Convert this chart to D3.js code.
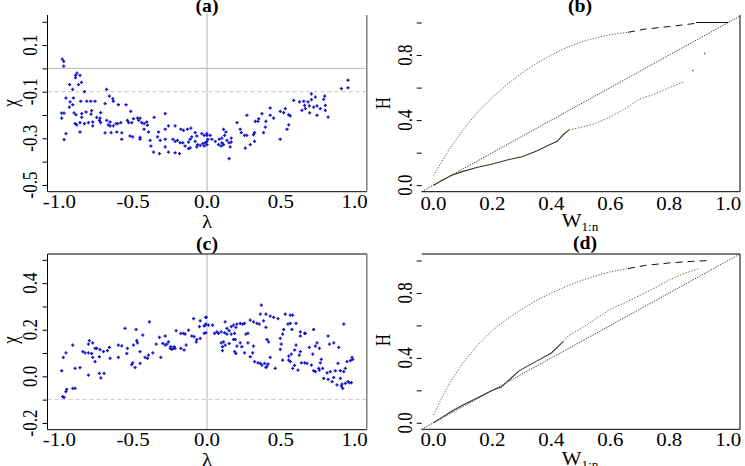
<!DOCTYPE html>
<html lang="en">
<head>
<meta charset="UTF-8">
<script src="https://d3js.org/d3.v7.min.js"></script>
<title>Chi and H plots</title>
<style>
  body { margin: 0; background: #fff; }
  text { font-family: "Liberation Serif", "Times New Roman", Times, serif; fill: #000; }
</style>
</head>
<body>
<div id="chart"></div>
<script>
// ---- data ----
// panel (a): [lambda, chi]
const ptsA = [
  [-0.98,0.04],[-0.97,0.03],[-0.97,0.01],
  [-0.89,-0.03],[-0.89,-0.04],[-0.86,-0.03],[-0.88,-0.02],
  [-0.93,-0.07],[-0.91,-0.09],[-0.87,-0.07],[-0.85,-0.06],[-0.83,-0.10],[-0.68,-0.09],
  [-0.955,-0.127],[-0.905,-0.127],[-0.927,-0.144],[-0.909,-0.156],[-0.932,-0.166],
  [-0.855,-0.141],[-0.814,-0.141],[-0.787,-0.141],[-0.758,-0.141],
  [-0.69,-0.151],[-0.661,-0.119],[-0.634,-0.141],[-0.638,-0.13],[-0.60,-0.156],[-0.548,-0.156],
  [-0.984,-0.192],[-0.968,-0.192],[-0.984,-0.213],
  [-0.90,-0.191],[-0.887,-0.199],[-0.848,-0.194],[-0.848,-0.21],[-0.819,-0.187],[-0.785,-0.196],
  [-0.781,-0.181],[-0.747,-0.21],[-0.72,-0.19],[-0.724,-0.213],
  [-0.893,-0.237],[-0.882,-0.242],[-0.86,-0.233],[-0.83,-0.237],[-0.803,-0.233],[-0.774,-0.23],
  [-0.774,-0.247],[-0.729,-0.223],[-0.72,-0.233],[-0.679,-0.223],[-0.668,-0.242],[-0.656,-0.23],
  [-0.634,-0.247],[-0.616,-0.237],[-0.604,-0.237],[-0.584,-0.233],
  [-0.955,-0.28],[-0.968,-0.306],[-0.86,-0.273],[-0.69,-0.277],[-0.656,-0.247],[-0.649,-0.276],
  [-0.611,-0.273],[-0.577,-0.277],[-0.577,-0.304],[-0.521,-0.29],[-0.503,-0.294],[-0.453,-0.296],[-0.453,-0.304],
  [-0.516,-0.184],[-0.509,-0.233],[-0.539,-0.223],[-0.53,-0.233],[-0.498,-0.216],[-0.471,-0.213],
  [-0.462,-0.223],[-0.453,-0.213],[-0.442,-0.233],[-0.426,-0.237],[-0.408,-0.23],[-0.403,-0.244],[-0.358,-0.21],
  [-0.283,-0.194],[-0.261,-0.247],[-0.283,-0.261],[-0.216,-0.247],[-0.177,-0.261],[-0.159,-0.266],
  [-0.132,-0.261],[-0.109,-0.256],[-0.08,-0.276],[-0.069,-0.29],[-0.035,-0.28],[-0.019,-0.287],[-0.001,-0.28],
  [-0.426,-0.261],[-0.396,-0.273],[-0.385,-0.309],[-0.328,-0.273],[-0.335,-0.294],[-0.317,-0.309],
  [-0.283,-0.304],[-0.231,-0.304],[-0.216,-0.313],[-0.2,-0.309],[-0.182,-0.319],[-0.164,-0.319],
  [-0.125,-0.316],[-0.114,-0.304],[-0.103,-0.294],[-0.08,-0.313],[-0.064,-0.327],[-0.046,-0.33],
  [-0.028,-0.323],[-0.012,-0.319],[-0.001,-0.313],
  [-0.38,-0.333],[-0.362,-0.359],[-0.322,-0.366],[-0.283,-0.337],[-0.261,-0.359],[-0.216,-0.362],
  [-0.186,-0.366],[-0.148,-0.333],[-0.125,-0.344],[-0.114,-0.341],[-0.069,-0.337],[-0.019,-0.333],
  [0.955,-0.051],[0.955,-0.083],[0.91,-0.087],
  [0.707,-0.109],[0.734,-0.123],[0.797,-0.119],[0.79,-0.133],[0.587,-0.137],[0.627,-0.144],
  [0.655,-0.141],[0.684,-0.144],[0.661,-0.159],[0.707,-0.134],
  [0.693,-0.161],[0.722,-0.166],[0.745,-0.161],[0.767,-0.173],[0.801,-0.159],[0.801,-0.18],
  [0.643,-0.18],[0.666,-0.173],[0.695,-0.191],[0.745,-0.201],[0.82,-0.209],
  [0.428,-0.17],[0.53,-0.173],[0.496,-0.184],[0.519,-0.19],[0.553,-0.199],[0.564,-0.204],[0.428,-0.201],[0.451,-0.213],
  [0.372,-0.194],[0.35,-0.216],[0.327,-0.227],[0.345,-0.227],[0.399,-0.227],[0.27,-0.201],[0.203,-0.233],
  [0.395,-0.252],[0.383,-0.276],[0.322,-0.276],[0.315,-0.284],
  [0.553,-0.242],[0.542,-0.261],[0.496,-0.304],[0.293,-0.327],[0.259,-0.342],[0.322,-0.313],
  [0.254,-0.287],[0.27,-0.287],[0.225,-0.261],[0.232,-0.276],[0.164,-0.299],[0.157,-0.337],[0.15,-0.387],
  [0.0,-0.287],[0.022,-0.287],[0.033,-0.304],[0.006,-0.304],[0.056,-0.313],[0.083,-0.304],[0.101,-0.299],
  [0.112,-0.262],[0.128,-0.273],[0.119,-0.287],[0.135,-0.309],[0.15,-0.319],[0.164,-0.316],[0.101,-0.319],
  [0.112,-0.327],[0.0,-0.327],[0.078,-0.327],[0.096,-0.333]
];

// panel (c): [lambda, chi]
const ptsC = [
  [-0.977,-0.087],[-0.968,-0.09],[-0.955,-0.066],[-0.95,-0.056],[-0.909,-0.052],[-0.893,-0.052],
  [-0.984,0.024],[-0.893,0.034],[-0.86,0.037],[-0.803,0.005],[-0.729,0.013],[-0.697,0.013],[-0.719,-0.007],
  [-0.973,0.081],[-0.955,0.101],[-0.909,0.134],[-0.841,0.106],[-0.826,0.101],[-0.803,0.101],[-0.781,0.098],
  [-0.774,0.081],[-0.796,0.153],[-0.774,0.144],[-0.803,0.138],[-0.758,0.12],[-0.747,0.12],[-0.724,0.115],
  [-0.729,0.084],[-0.758,0.063],[-0.701,0.106],[-0.674,0.11],[-0.661,0.124],[-0.656,0.077],[-0.6,0.134],
  [-0.577,0.131],[-0.6,0.081],[-0.543,0.098],[-0.539,0.12],[-0.555,0.206],[-0.48,0.201],
  [-0.503,0.058],[-0.51,0.05],[-0.487,0.038],[-0.453,0.056],[-0.453,0.106],[-0.471,0.144],[-0.476,0.153],
  [-0.435,0.177],[-0.498,0.134],[-0.419,0.081],[-0.403,0.077],[-0.396,0.091],[-0.39,0.234],[-0.367,0.101],
  [-0.344,0.138],[-0.322,0.167],[-0.313,0.081],[-0.299,0.141],[-0.283,0.173],[-0.283,0.134],[-0.272,0.138],
  [-0.261,0.148],[-0.245,0.127],[-0.249,0.12],[-0.238,0.116],[-0.222,0.127],[-0.209,0.196],[-0.177,0.184],
  [-0.159,0.184],[-0.148,0.181],[-0.125,0.198],[-0.141,0.134],[-0.155,0.113],[-0.177,0.12],[-0.216,0.12],
  [-0.227,0.12],[-0.103,0.173],[-0.087,0.17],[-0.073,0.148],[-0.069,0.158],[-0.046,0.163],[-0.019,0.184],
  [-0.012,0.22],[-0.046,0.238],[-0.051,0.213],[-0.091,0.248],[-0.005,0.253],[-0.019,0.216],
  [0.368,0.306],
  [0.361,0.267],[0.399,0.267],[0.428,0.258],[0.451,0.253],[0.481,0.248],[0.53,0.267],[0.564,0.263],
  [0.58,0.263],[0.603,0.227],[0.564,0.227],[0.548,0.224],
  [0.293,0.241],[0.315,0.234],[0.338,0.227],[0.354,0.224],[0.383,0.238],[0.399,0.21],[0.519,0.201],
  [0.575,0.201],[0.632,0.191],[0.661,0.184],[0.722,0.201],[0.926,0.224],
  [-0.008,0.253],[-0.008,0.224],[-0.008,0.187],[0.01,0.22],[0.038,0.22],[0.067,0.191],[0.078,0.184],
  [0.051,0.184],[0.096,0.191],[0.123,0.234],[0.119,0.187],[0.135,0.181],[0.15,0.196],[0.164,0.213],
  [0.18,0.22],[0.196,0.21],[0.203,0.224],[0.225,0.227],[0.241,0.224],[0.254,0.227],[0.263,0.181],
  [0.277,0.184],[0.187,0.184],[0.164,0.181],[0.135,0.206],
  [0.096,0.144],[0.112,0.148],[0.105,0.127],[0.105,0.11],[0.123,0.134],[0.15,0.141],[0.18,0.158],
  [0.191,0.158],[0.187,0.106],[0.196,0.098],[0.203,0.13],[0.225,0.144],[0.236,0.127],[0.254,0.101],
  [0.277,0.144],[0.293,0.084],[0.315,0.13],[0.309,0.101],[0.322,0.063],[0.345,0.058],[0.361,0.056],
  [0.372,0.048],[0.39,0.056],[0.406,0.044],[0.399,0.038],[0.413,0.053],[0.428,0.081],[0.462,0.034],
  [0.406,0.158],[0.417,0.148],[0.496,0.163],[0.512,0.181],[0.503,0.138],[0.496,0.116],[0.512,0.07],
  [0.553,0.07],[0.564,0.063],[0.553,0.087],[0.571,0.095],[0.593,0.113],[0.603,0.134],[0.632,0.106],
  [0.625,0.091],[0.632,0.173],[0.666,0.184],[0.639,0.058],[0.661,0.058],[0.677,0.056],[0.593,0.047],
  [0.58,0.034],[0.616,0.027],
  [0.693,0.124],[0.734,0.13],[0.761,0.12],[0.745,0.144],[0.82,0.173],[0.829,0.138],[0.858,0.144],
  [0.892,0.124],[0.716,0.095],[0.774,0.073],[0.767,0.058],[0.756,0.034],[0.707,0.048],[0.722,0.024],
  [0.734,0.02],[0.761,0.027],[0.783,0.034],[0.79,-0.009],[0.82,-0.013],[0.835,0.02],[0.858,-0.005],
  [0.869,0.024],[0.887,0.056],[0.903,0.024],[0.903,-0.009],[0.926,0.02],[0.937,0.034],[0.948,0.063],
  [0.971,0.067],[0.982,0.081],[0.987,0.073],[0.914,-0.033],[0.937,-0.03],[0.955,-0.023],[0.964,-0.027],
  [0.978,-0.027],[0.88,-0.037],[0.91,-0.042],[0.919,-0.052],[0.847,-0.023],[0.813,0.015]
];

// panel (b) curves
const upperBW = [0, 0.05, 0.1, 0.15, 0.2, 0.25, 0.3, 0.35, 0.4, 0.45, 0.5, 0.55, 0.6, 0.66];
const upperBH = [0.06, 0.21, 0.34, 0.45, 0.54, 0.62, 0.69, 0.75, 0.80, 0.845, 0.88, 0.905, 0.925, 0.94];
const tailBW = [0.66, 0.72, 0.8, 0.89];
const tailBH = [0.94, 0.96, 0.975, 0.995];
const capBW = [0.89, 1.0];
const capBH = [1.0, 1.0];
const lowerBW = [0, 0.03, 0.06, 0.1, 0.15, 0.2, 0.25, 0.3, 0.35, 0.39, 0.42, 0.44, 0.46, 0.5, 0.55, 0.6, 0.65, 0.7, 0.75, 0.8, 0.85];
const lowerBH = [0, 0.03, 0.06, 0.085, 0.11, 0.13, 0.155, 0.175, 0.21, 0.245, 0.27, 0.31, 0.34, 0.355, 0.38, 0.42, 0.47, 0.53, 0.56, 0.60, 0.635];
const extraBW = [0.88, 0.92];
const extraBH = [0.705, 0.81];

// panel (d) curves
const upperDW = [0, 0.03, 0.06, 0.1, 0.15, 0.2, 0.25, 0.3, 0.35, 0.4, 0.45, 0.5, 0.55, 0.6, 0.66];
const upperDH = [0.05, 0.16, 0.26, 0.37, 0.48, 0.57, 0.64, 0.70, 0.755, 0.80, 0.84, 0.875, 0.905, 0.93, 0.95];
const tailDW = [0.66, 0.72, 0.8, 0.88, 0.94];
const tailDH = [0.95, 0.97, 0.985, 0.995, 1.0];
const lowerDW = [0, 0.03, 0.06, 0.1, 0.15, 0.2, 0.23, 0.26, 0.29, 0.35, 0.4, 0.44, 0.46, 0.5, 0.55, 0.6, 0.65, 0.7, 0.75, 0.8, 0.85, 0.9];
const lowerDH = [0, 0.035, 0.07, 0.11, 0.155, 0.2, 0.22, 0.27, 0.32, 0.38, 0.43, 0.5, 0.54, 0.58, 0.64, 0.70, 0.74, 0.785, 0.83, 0.88, 0.92, 0.95];

const diagW = [-0.04, 1.04];

// ticks
const ticksChiA = [-0.5, -0.4, -0.3, -0.2, -0.1, 0, 0.1, 0.2];
const labelsChiA = [-0.5, -0.3, -0.1, 0.1];
const ticksChiC = [-0.2, -0.1, 0, 0.1, 0.2, 0.3, 0.4, 0.5];
const labelsChiC = [-0.2, 0.0, 0.2, 0.4];
const ticksLambda = [-1, -0.5, 0, 0.5, 1];
const ticksW = [0, 0.2, 0.4, 0.6, 0.8, 1];
const ticksH = [0, 0.2, 0.4, 0.6, 0.8, 1];
const labelsH = [0, 0.4, 0.8];

// ---- drawing ----
const svg = d3.select("#chart").append("svg")
    .attr("width", 745)
    .attr("height", 466);

// the scan is stretched sideways, so text gets a horizontal stretch
const SX = 1.1, FSX = 19;     // horizontal texts
const SY = 1.25, FSY = 17;    // rotated texts
const fmt = d => d.toFixed(1);

function hline(x1, x2, y, stroke, w, dash) {
    svg.append("line").attr("x1", x1).attr("x2", x2).attr("y1", y).attr("y2", y)
        .attr("stroke", stroke).attr("stroke-width", w).attr("stroke-dasharray", dash || null);
}
function vline(x, y1, y2, stroke, w, dash) {
    svg.append("line").attr("x1", x).attr("x2", x).attr("y1", y1).attr("y2", y2)
        .attr("stroke", stroke).attr("stroke-width", w).attr("stroke-dasharray", dash || null);
}

function yTicks(y, x0, ticks, labels, labelX) {
    svg.append("g")
        .attr("transform", `translate(${x0},0)`)
        .call(d3.axisLeft(y).tickValues(ticks).tickSize(5).tickFormat(""))
        .call(g => g.select(".domain").remove());
    svg.append("g").selectAll("text")
        .data(labels)
        .join("text")
        .attr("transform", d => `translate(${labelX},${y(d)}) scale(${SY},1) rotate(-90)`)
        .attr("text-anchor", "middle")
        .attr("font-size", FSY)
        .text(fmt);
}

function xLabels(x, ticks, baseY) {
    svg.append("g").selectAll("text")
        .data(ticks)
        .join("text")
        .attr("transform", d => `translate(${x(d)},${baseY}) scale(${SX},1)`)
        .attr("text-anchor", "middle")
        .attr("font-size", FSX)
        .text(fmt);
}

function title(txt, cx, baseY) {
    svg.append("text")
        .attr("transform", `translate(${cx},${baseY}) scale(${SX},1)`)
        .attr("text-anchor", "middle")
        .attr("font-size", 18)
        .attr("font-weight", "bold")
        .text(txt);
}

function ylab(txt, x, cy) {
    svg.append("text")
        .attr("transform", `translate(${x},${cy}) scale(${SY},1) rotate(-90)`)
        .attr("text-anchor", "middle")
        .attr("font-size", FSY)
        .text(txt);
}

function xlab(txt, cx, baseY) {
    svg.append("text")
        .attr("transform", `translate(${cx},${baseY}) scale(${SX},1)`)
        .attr("text-anchor", "middle")
        .attr("font-size", FSX)
        .text(txt);
}

function wlab(cx, baseY) {
    const t = svg.append("text")
        .attr("transform", `translate(${cx},${baseY}) scale(${SX},1)`)
        .attr("text-anchor", "middle")
        .attr("font-size", FSX);
    t.append("tspan").text("W");
    t.append("tspan").attr("font-size", 12).attr("dy", 4).text("1:n");
}

const cross = "M-1.6,0H1.6M0,-1.6V1.6";
function scatter(data, x, y) {
    svg.append("g").selectAll("path")
        .data(data)
        .join("path")
        .attr("transform", d => `translate(${x(d[0])},${y(d[1])})`)
        .attr("d", cross)
        .attr("stroke", "#1515c8")
        .attr("stroke-width", 1.3)
        .attr("fill", "none");
}

function curve(ws, hs, x, y, stroke, w, dash) {
    const line = d3.line().x(d => x(d[0])).y(d => y(d[1]));
    svg.append("path")
        .datum(ws.map((v, i) => [v, hs[i]]))
        .attr("d", line)
        .attr("fill", "none")
        .attr("stroke", stroke)
        .attr("stroke-width", w)
        .attr("stroke-dasharray", dash || null);
}

// ---------- panel (a) ----------
const xA = d3.scaleLinear().domain([-1.08, 1.08]).range([47.5, 366.5]);
const yA = d3.scaleLinear().domain([-0.529, 0.229]).range([191.7, 15]);

hline(47.5, 366.5, yA(0), "#c4c4c4", 1.3);
hline(47.5, 366.5, yA(-0.1), "#c4c4c4", 1, "4,3");
vline(xA(0), 13, 191.7, "#c4c4c4", 1.3);
scatter(ptsA, xA, yA);
vline(47.5, 15, 191.7, "#000", 1);
hline(47.5, 367, 191.7, "#000", 1);
vline(366.8, 15, 191.7, "#8a8a8a", 1.6);
yTicks(yA, 47.5, ticksChiA, labelsChiA, 36.5);
xLabels(xA, ticksLambda, 208);
title("(a)", 207, 12);
ylab("χ", 16.5, 103);
xlab("λ", 207, 228);

// ---------- panel (c) ----------
const yC = d3.scaleLinear().domain([-0.229, 0.525]).range([429.7, 254]);

hline(47.5, 366.5, yC(-0.1), "#c4c4c4", 1, "4,3");
vline(xA(0), 254, 429.7, "#c4c4c4", 1.3);
scatter(ptsC, xA, yC);
vline(47.5, 254, 429.7, "#000", 1);
hline(47.5, 367, 429.7, "#000", 1);
hline(47.5, 367, 254, "#000", 1);
vline(366.8, 254, 429.7, "#8a8a8a", 1.6);
yTicks(yC, 47.5, ticksChiC, labelsChiC, 36.5);
xLabels(xA, ticksLambda, 446);
title("(c)", 207, 250);
ylab("χ", 16.5, 340);
xlab("λ", 207, 465.5);

// ---------- panel (b) ----------
const xB = d3.scaleLinear().domain([-0.04, 1.04]).range([421.7, 740]);
const yB = d3.scaleLinear().domain([-0.04, 1.04]).range([191.7, 16]);

curve(diagW, diagW, xB, yB, "#222", 0.9, "1.3,1.3");
curve(upperBW, upperBH, xB, yB, "#444", 0.9, "1.2,1.6");
curve(tailBW, tailBH, xB, yB, "#111", 1, "7,5");
curve(capBW, capBH, xB, yB, "#111", 1.1);
curve(lowerBW.slice(0, 13), lowerBH.slice(0, 13), xB, yB, "#3a3520", 1.1);
curve(lowerBW.slice(12), lowerBH.slice(12), xB, yB, "#6b6238", 0.9, "1.5,1.5");
svg.append("g").selectAll("rect")
    .data(extraBW.map((v, i) => [v, extraBH[i]]))
    .join("rect")
    .attr("x", d => xB(d[0]) - 0.7).attr("y", d => yB(d[1]) - 0.7)
    .attr("width", 1.4).attr("height", 1.4).attr("fill", "#555");
hline(421.7, 740, 191.7, "#000", 1);
vline(740, 15, 191.7, "#000", 1);
yTicks(yB, 421.7, ticksH, labelsH, 411.5);
xLabels(xB, ticksW, 210);
title("(b)", 580, 12);
ylab("H", 390, 103);
wlab(580, 226.5);

// ---------- panel (d) ----------
const yD = d3.scaleLinear().domain([-0.04, 1.04]).range([429.3, 254]);

curve(diagW, diagW, xB, yD, "#222", 0.9, "1.3,1.3");
curve(upperDW, upperDH, xB, yD, "#444", 0.9, "1.2,1.6");
curve(tailDW, tailDH, xB, yD, "#111", 1, "7,5");
curve(lowerDW.slice(0, 12), lowerDH.slice(0, 12), xB, yD, "#3a3520", 1.1);
curve(lowerDW.slice(11), lowerDH.slice(11), xB, yD, "#6b6238", 0.9, "1.5,1.5");
hline(421.7, 740, 429.3, "#000", 1);
hline(421.7, 740, 254, "#000", 1);
vline(740, 254, 429.3, "#000", 1);
yTicks(yD, 421.7, ticksH, labelsH, 411.5);
xLabels(xB, ticksW, 446);
title("(d)", 585, 249);
ylab("H", 390, 340);
wlab(580, 464.5);
</script>
</body>
</html>
